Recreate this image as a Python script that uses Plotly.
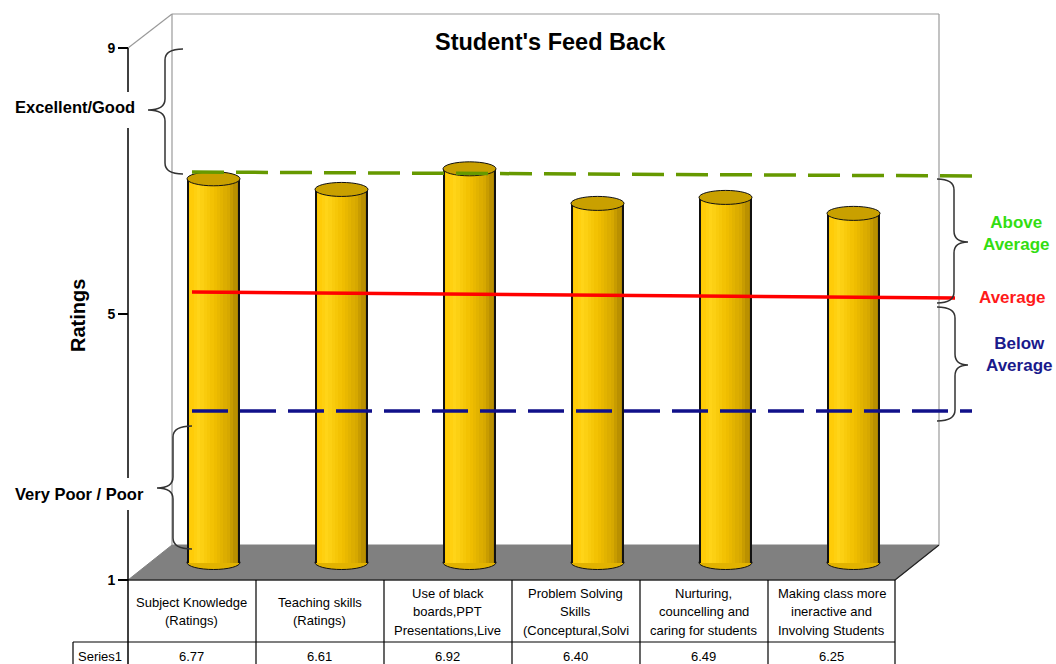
import plotly.graph_objects as go

# ---------------- data ----------------
categories = [
    "Subject Knowledge<br>(Ratings)",
    "Teaching skills<br>(Ratings)",
    "Use of black<br>boards,PPT<br>Presentations,Live",
    "Problem Solving<br>Skills<br>(Conceptural,Solvi",
    "Nurturing,<br>councelling and<br>caring for students",
    "Making class more<br>ineractive and<br>Involving Students",
]
series_name = "Series1"
ratings = [6.77, 6.61, 6.92, 6.40, 6.49, 6.25]
tick_values = [1, 5, 9]
rating_min, rating_max = 1, 9

# ---------------- geometry (pixels) ----------------
W, H = 1056, 664
PPU = 66.5            # pixels per rating unit
PPC = 128             # pixels per category
FRONT_CX0 = 191.5     # x of first category centre on the front plane
FRONT_Y1 = 580        # y of rating 1 on front plane
DX, DY = 44, 35       # depth offset to back wall
MID_DX, MID_DY = DX / 2, DY / 2

def x_range(cx0):
    return [(0 - cx0) / PPC, (W - cx0) / PPC]

def y_range(y1px):
    return [1 + (y1px - H) / PPU, 1 + y1px / PPU]

fig = go.Figure()

# dummy traces so every subplot exists
fig.add_scatter(x=[0], y=[0], mode="markers", marker=dict(opacity=0),
                hoverinfo="skip", showlegend=False)
fig.add_scatter(x=[0], y=[1], mode="markers", marker=dict(opacity=0),
                hoverinfo="skip", showlegend=False, xaxis="x3", yaxis="y3")

# ---------------- cylinders ----------------
idx = list(range(len(categories)))
half_w = 26.5 / PPC
stops = [(0.0, (255, 200, 0)), (0.2, (255, 212, 24)), (0.5, (242, 192, 0)),
         (0.8, (214, 168, 0)), (1.0, (172, 132, 0))]

def grad(t):
    for (t0, c0), (t1, c1) in zip(stops[:-1], stops[1:]):
        if t0 <= t <= t1:
            f = (t - t0) / (t1 - t0)
            return "rgb(%d,%d,%d)" % tuple(round(a + (b - a) * f) for a, b in zip(c0, c1))
    return "rgb(%d,%d,%d)" % stops[-1][1]

N = 16
lengths = [v - rating_min for v in ratings]
for k in range(N):
    off = -half_w + k * (2 * half_w / N)
    fig.add_bar(x=idx, y=lengths, base=rating_min, offset=off, width=half_w - off,
                marker=dict(color=grad(k / (N - 1)), line=dict(width=0)),
                xaxis="x2", yaxis="y2", hoverinfo="skip", showlegend=False)
edge = 1.3 / PPC
for off in (-half_w, half_w - edge):
    fig.add_bar(x=idx, y=lengths, base=rating_min, offset=off, width=edge,
                marker=dict(color="#111111", line=dict(width=0)),
                xaxis="x2", yaxis="y2", hoverinfo="skip", showlegend=False)

shapes = []
def px_line(x0, y0, x1, y1, color, width=1, dash="solid", layer="above"):
    shapes.append(dict(type="line", xref="x", yref="y", x0=x0, y0=y0, x1=x1, y1=y1,
                       line=dict(color=color, width=width, dash=dash), layer=layer))

# back wall & floor
bx0 = 128 + DX
bx1 = 895 + DX
floor_back = FRONT_Y1 - DY
shapes.append(dict(type="path", xref="x", yref="y", layer="below",
                   path=f"M 128,{FRONT_Y1} L {128+DX},{floor_back} L {bx1},{floor_back} L 895,{FRONT_Y1} Z",
                   fillcolor="#808080", line=dict(color="#808080", width=1)))
px_line(895, FRONT_Y1, bx1, floor_back, "#222222", 1.2, layer="below")
px_line(bx0, 14, bx1, 14, "#9a9a9a", 1.2, layer="below")
px_line(bx0, 14, bx0, floor_back, "#9a9a9a", 1.2, layer="below")
px_line(bx1, 14, bx1, floor_back, "#9a9a9a", 1.2, layer="below")
px_line(128, 48, bx0, 14, "#9a9a9a", 1.2, layer="below")

# cylinder end caps
eh = 7 / PPU
for i, v in enumerate(ratings):
    shapes.append(dict(type="circle", xref="x2", yref="y2", layer="below",
                       x0=i - half_w, x1=i + half_w, y0=rating_min - eh, y1=rating_min + eh,
                       fillcolor="#E2B300", line=dict(color="#111111", width=1)))
    shapes.append(dict(type="circle", xref="x2", yref="y2", layer="above",
                       x0=i - half_w, x1=i + half_w, y0=v - eh, y1=v + eh,
                       fillcolor="#C9A000", line=dict(color="#111111", width=1)))

# reference lines
px_line(192, 172, 972, 176, "#669900", 3.5, dash="32px,12px")
px_line(192, 292, 955, 298, "#FF0000", 3.5)
px_line(192, 411, 972, 411, "#10108A", 3.5, dash="36px,12px")

# braces
def brace(xt, xs, xp, y0, y1, ym, r=11):
    p = (f"M {xt},{y0} Q {xs},{y0} {xs},{y0+r} L {xs},{ym-r} Q {xs},{ym} {xp},{ym} "
         f"Q {xs},{ym} {xs},{ym+r} L {xs},{y1-r} Q {xs},{y1} {xt},{y1}")
    shapes.append(dict(type="path", xref="x", yref="y", path=p, layer="above",
                       line=dict(color="#333333", width=1.5)))

brace(183, 165, 148, 49, 174, 110)
brace(192, 173, 157, 426, 549, 488)
brace(937, 954, 968, 179, 303, 242)
brace(937, 955, 968, 307, 421, 365)

# left axis line (with gaps behind labels) and table grid
for y0, y1 in [(48, 92), (128, 478), (510, H)]:
    px_line(128, y0, 128, y1, "#000000", 1.5)
px_line(128, FRONT_Y1, 895, FRONT_Y1, "#000000", 1.2)
px_line(73, 642, 895, 642, "#000000", 1.2)
px_line(73, 642, 73, H, "#000000", 1.2)
for i in range(1, len(categories) + 1):
    xb = 128 + i * PPC - (1 if i == len(categories) else 0)
    px_line(xb, FRONT_Y1, xb, H, "#000000", 1.2)

# ---------------- annotations ----------------
ann = []
FONT = "Arial, Liberation Sans, sans-serif"
def text(x, y, s, size, color="#000000", bold=False, xref="x", angle=0, xanchor="center"):
    ann.append(dict(x=x, y=y, xref=xref, yref="y", text=(f"<b>{s}</b>" if bold else s),
                    showarrow=False, textangle=angle, xanchor=xanchor, yanchor="middle",
                    font=dict(family=FONT, size=size, color=color)))

text(550, 42, "Student's Feed Back", 23.5, bold=True)
text(75, 107, "Excellent/Good", 16.5, bold=True)
text(79, 494, "Very Poor / Poor", 16.5, bold=True)
text(78, 316, "Ratings", 20, bold=True, angle=-90)
text(1016, 233, "Above<br>Average", 17, color="#33DD11", bold=True)
text(1012, 297, "Average", 17, color="#FF1A1A", bold=True)
text(1019, 354, "Below<br>Average", 17, color="#1A1A8C", bold=True)

for i, cat in enumerate(categories):
    lines = cat.split("<br>")
    n = len(lines)
    for k, ln in enumerate(lines):
        text(i, 611.5 + (k - (n - 1) / 2) * 18.5, ln, 13, xref="x3")
    text(i, 656, f"{ratings[i]:.2f}", 13, xref="x3")
text(100, 656, series_name, 13)

fig.update_layout(
    width=W, height=H, margin=dict(l=0, r=0, t=0, b=0, pad=0),
    paper_bgcolor="white", plot_bgcolor="rgba(0,0,0,0)",
    barmode="overlay", bargap=0, hovermode=False, showlegend=False,
    shapes=shapes, annotations=ann,
    xaxis=dict(range=[0, W], visible=False, domain=[0, 1], fixedrange=True),
    yaxis=dict(range=[H, 0], visible=False, domain=[0, 1], fixedrange=True),
    xaxis2=dict(range=x_range(FRONT_CX0 + MID_DX), overlaying="x", anchor="y2", visible=False),
    yaxis2=dict(range=y_range(FRONT_Y1 - MID_DY), overlaying="y", anchor="x2", visible=False),
    xaxis3=dict(range=x_range(FRONT_CX0), overlaying="x", anchor="y3", visible=False),
    yaxis3=dict(range=y_range(FRONT_Y1), overlaying="y", anchor="free", position=128 / W,
                side="left", showline=False, showgrid=False, zeroline=False,
                ticks="outside", ticklen=10, tickwidth=1.5, tickcolor="#000000",
                tickvals=tick_values, ticktext=[f"<b>{t}</b>" for t in tick_values],
                tickfont=dict(family=FONT, size=14, color="#000000")),
)

fig.write_html("out.html", config={"displayModeBar": False},
               post_script="document.body.style.margin='0';document.body.style.overflow='hidden';")
